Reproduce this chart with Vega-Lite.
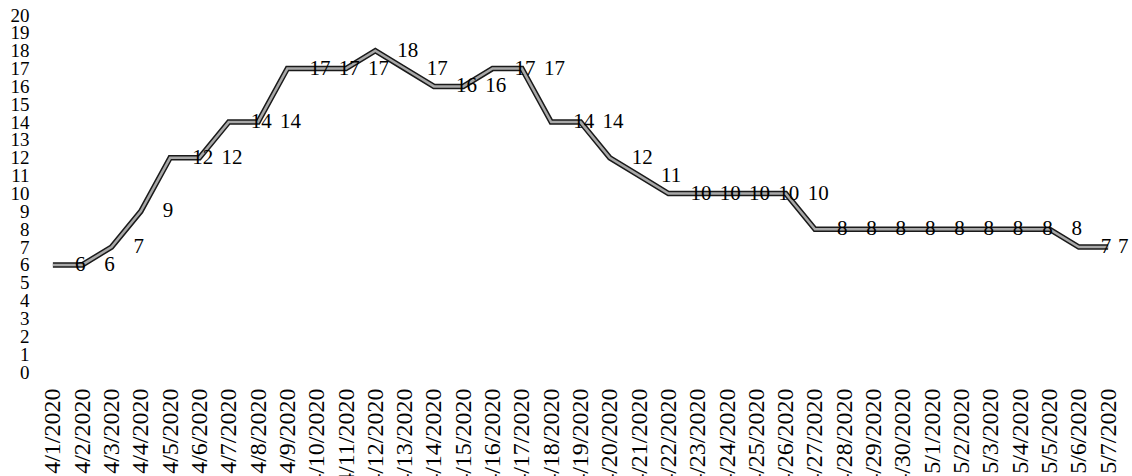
{
  "$schema": "https://vega.github.io/schema/vega-lite/v6.json",
  "width": 1091,
  "height": 357,
  "autosize": {"type": "none"},
  "padding": {"left": 35, "top": 15, "right": 6, "bottom": 104},
  "background": "white",
  "config": {"view": {"stroke": null}, "font": "Liberation Serif"},
  "data": {
    "values": [
      {"date": "4/1/2020", "value": 6},
      {"date": "4/2/2020", "value": 6},
      {"date": "4/3/2020", "value": 7},
      {"date": "4/4/2020", "value": 9},
      {"date": "4/5/2020", "value": 12},
      {"date": "4/6/2020", "value": 12},
      {"date": "4/7/2020", "value": 14},
      {"date": "4/8/2020", "value": 14},
      {"date": "4/9/2020", "value": 17},
      {"date": "4/10/2020", "value": 17},
      {"date": "4/11/2020", "value": 17},
      {"date": "4/12/2020", "value": 18},
      {"date": "4/13/2020", "value": 17},
      {"date": "4/14/2020", "value": 16},
      {"date": "4/15/2020", "value": 16},
      {"date": "4/16/2020", "value": 17},
      {"date": "4/17/2020", "value": 17},
      {"date": "4/18/2020", "value": 14},
      {"date": "4/19/2020", "value": 14},
      {"date": "4/20/2020", "value": 12},
      {"date": "4/21/2020", "value": 11},
      {"date": "4/22/2020", "value": 10},
      {"date": "4/23/2020", "value": 10},
      {"date": "4/24/2020", "value": 10},
      {"date": "4/25/2020", "value": 10},
      {"date": "4/26/2020", "value": 10},
      {"date": "4/27/2020", "value": 8},
      {"date": "4/28/2020", "value": 8},
      {"date": "4/29/2020", "value": 8},
      {"date": "4/30/2020", "value": 8},
      {"date": "5/1/2020", "value": 8},
      {"date": "5/2/2020", "value": 8},
      {"date": "5/3/2020", "value": 8},
      {"date": "5/4/2020", "value": 8},
      {"date": "5/5/2020", "value": 8},
      {"date": "5/6/2020", "value": 7},
      {"date": "5/7/2020", "value": 7}
    ]
  },
  "encoding": {
    "x": {
      "field": "date",
      "type": "ordinal",
      "sort": null,
      "scale": {"type": "point", "padding": 0.61},
      "axis": {
        "title": null,
        "labelAngle": -90,
        "labelFontSize": 24,
        "labelFont": "Liberation Serif",
        "labelColor": "black",
        "domain": false,
        "ticks": false,
        "labelPadding": 16,
        "labelOverlap": false
      }
    },
    "y": {
      "field": "value",
      "type": "quantitative",
      "scale": {"domain": [0, 20], "nice": false},
      "axis": {
        "title": null,
        "values": [0, 1, 2, 3, 4, 5, 6, 7, 8, 9, 10, 11, 12, 13, 14, 15, 16, 17, 18, 19, 20],
        "labelFontSize": 19,
        "labelFont": "Liberation Serif",
        "labelColor": "black",
        "labelOverlap": false,
        "domain": false,
        "ticks": false,
        "grid": false,
        "labelPadding": 6
      }
    }
  },
  "layer": [
    {"mark": {"type": "line", "stroke": "#1a1a1a", "strokeWidth": 5.5, "strokeJoin": "miter"}},
    {"mark": {"type": "line", "stroke": "#a8a8a8", "strokeWidth": 2.5, "strokeJoin": "miter"}},
    {
      "transform": [{"filter": "datum.date !== '5/7/2020'"}],
      "mark": {"type": "text", "align": "left", "baseline": "middle", "dx": 22, "fontSize": 21, "font": "Liberation Serif", "color": "black"},
      "encoding": {"text": {"field": "value", "type": "quantitative"}}
    },
    {
      "transform": [{"filter": "datum.date === '5/7/2020'"}],
      "mark": {"type": "text", "align": "left", "baseline": "middle", "dx": 10, "fontSize": 21, "font": "Liberation Serif", "color": "black"},
      "encoding": {"text": {"field": "value", "type": "quantitative"}}
    }
  ]
}
